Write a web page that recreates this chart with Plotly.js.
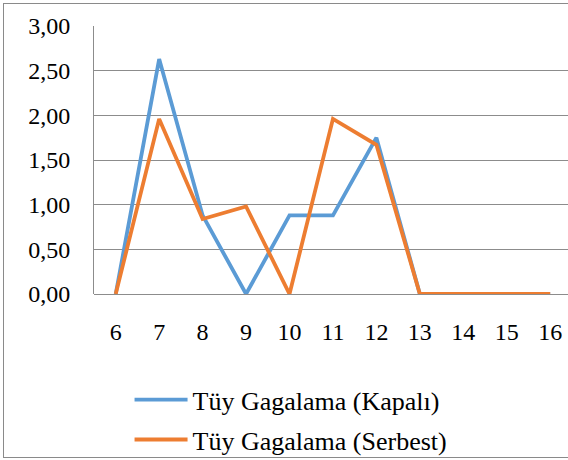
<!DOCTYPE html>
<html>
<head>
<meta charset="utf-8">
<script src="https://cdn.plot.ly/plotly-3.0.1.min.js"></script>
<style>
  body { margin: 0; overflow: hidden; background: #fff; }
  #chart { position: absolute; left: 0; top: 0; width: 568px; height: 460px; }
  #chart text { font-family: "Liberation Serif", "DejaVu Serif", serif !important; }
  #frame { position: absolute; left: 3px; top: 3px; width: 600px; height: 453px;
           border: 1px solid #8a8a8a; pointer-events: none; }
</style>
</head>
<body>
<div id="chart"></div>
<div id="frame"></div>
<script>
// Weeks on the x axis
const weeks = ['6', '7', '8', '9', '10', '11', '12', '13', '14', '15', '16'];

// Feather pecking values
const kapali = [0, 2.63, 0.88, 0, 0.88, 0.88, 1.75, 0, 0, 0, 0];
const serbest = [0, 1.96, 0.84, 0.98, 0, 1.96, 1.67, 0, 0, 0, 0];

const yTicks = [0, 0.5, 1, 1.5, 2, 2.5, 3];

const serifFont = '"Liberation Serif", "DejaVu Serif", serif';

const kapaliTrace = {
    x: weeks,
    y: kapali,
    type: 'scatter',
    mode: 'lines',
    name: 'Tüy Gagalama (Kapalı)',
    legendgroup: 'a',
    line: { width: 3.8, color: '#5B9BD5' }
};

const serbestTrace = {
    x: weeks,
    y: serbest,
    type: 'scatter',
    mode: 'lines',
    name: 'Tüy Gagalama (Serbest)',
    legendgroup: 'b',
    line: { width: 3.8, color: '#ED7D31' }
};

const layout = {
    width: 568,
    height: 460,
    margin: { l: 94, r: 0, t: 26, b: 166 },
    separators: ',.',
    font: { family: serifFont, size: 24, color: '#000' },
    paper_bgcolor: 'rgba(0,0,0,0)',
    plot_bgcolor: '#fff',
    showlegend: true,
    legend: {
        orientation: 'v',
        x: 0.075,
        y: 0.182,
        yref: 'container',
        xanchor: 'left',
        yanchor: 'top',
        tracegroupgap: 3,
        itemwidth: 53,
        font: { family: serifFont, size: 26, color: '#000' }
    },
    xaxis: {
        type: 'category',
        range: [-0.5, 10.41],
        showgrid: false,
        zeroline: false,
        showline: false,
        ticks: '',
        ticklabelstandoff: 21,
        tickfont: { family: serifFont, size: 24, color: '#000' }
    },
    yaxis: {
        range: [0, 3],
        tickvals: yTicks,
        tickformat: '.2f',
        showgrid: true,
        gridcolor: '#8c8c8c',
        gridwidth: 1,
        zeroline: true,
        zerolinecolor: '#8c8c8c',
        zerolinewidth: 1,
        showline: true,
        linecolor: '#8c8c8c',
        linewidth: 1,
        ticks: '',
        ticklabelstandoff: 18,
        tickfont: { family: serifFont, size: 24, color: '#000' }
    }
};

Plotly.newPlot('chart', [kapaliTrace, serbestTrace], layout, { staticPlot: true });
</script>
</body>
</html>
